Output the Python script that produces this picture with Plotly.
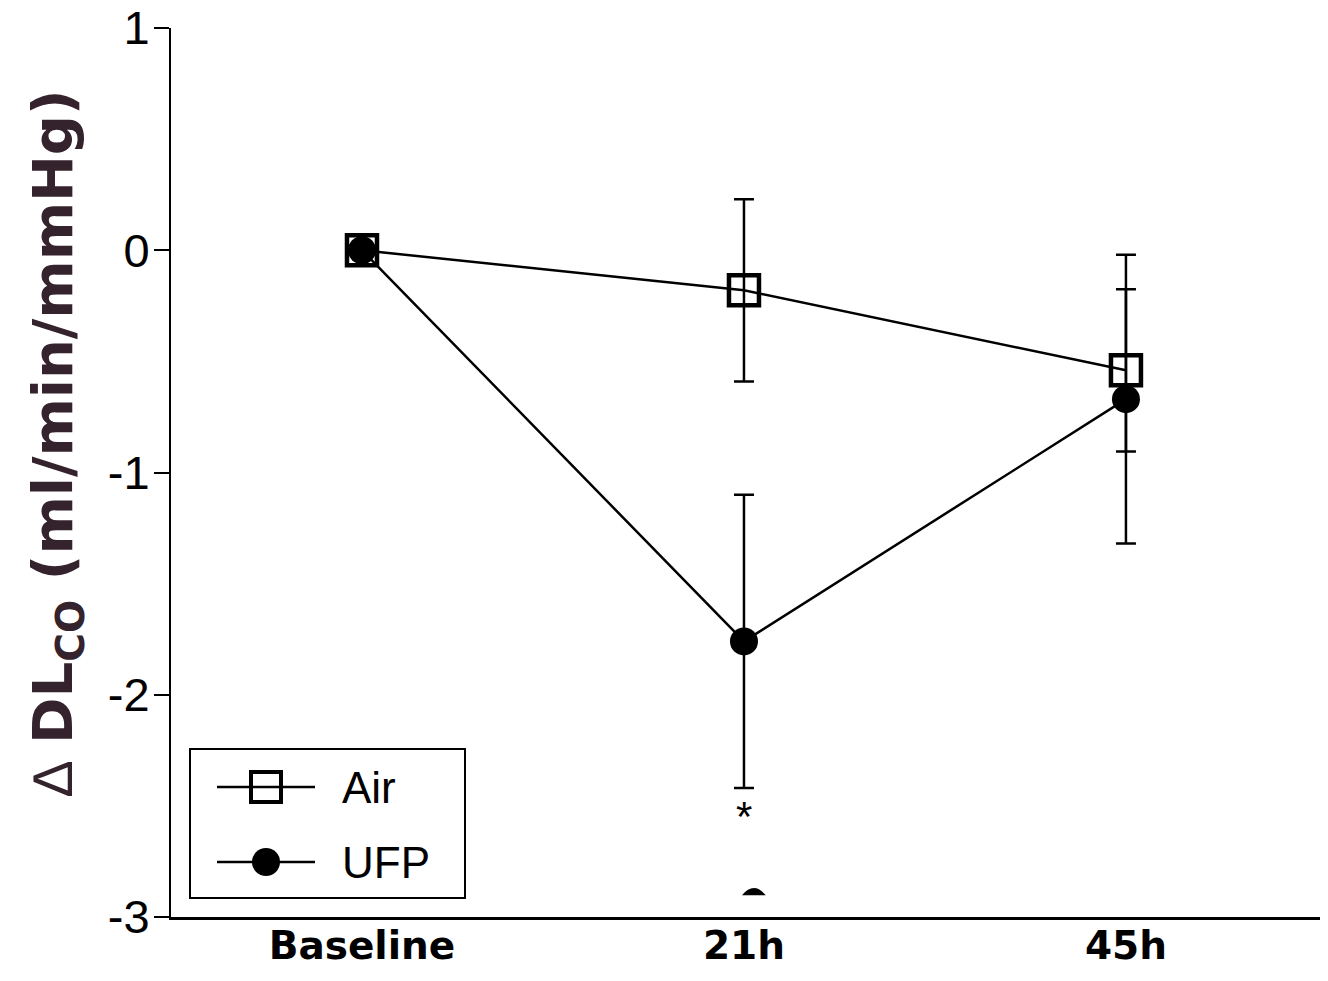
import plotly.graph_objects as go

# ---- data ----
categories = ["Baseline", "21h", "45h"]
air_mean = [0.0, -0.18, -0.54]
air_err = [0.0, 0.41, 0.365]
ufp_mean = [0.0, -1.76, -0.67]
ufp_err = [0.0, 0.66, 0.65]
y_ticks = [-3, -2, -1, 0, 1]
y_tick_labels = ["-3", "-2", "-1", "0", "1"]
series_names = ["Air", "UFP"]

x_pos = list(range(len(categories)))

SANS = "Liberation Sans, Arial, sans-serif"
WIDE = "DejaVu Sans, sans-serif"

# page layout (screen pixels, the page body adds an 8 px offset)
OFF = 8
FIG_W, FIG_H = 1328 - 2 * OFF, 981 - 2 * OFF
PL, PT, PB = 171, 28, 917          # plot area edges on screen
PR = FIG_W + OFF                   # right edge of plot area on screen


def px(xs):
    return (xs - PL) / (PR - PL)


def py(ys):
    return (PB - ys) / (PB - PT)


fig = go.Figure()

fig.add_trace(go.Scatter(
    x=x_pos, y=air_mean, name=series_names[0], mode="lines+markers",
    line=dict(color="black", width=2.5),
    marker=dict(symbol="square", size=30, color="rgba(0,0,0,0)",
                line=dict(color="black", width=4.5)),
    error_y=dict(type="data", array=air_err, visible=True,
                 color="black", thickness=2.5, width=10),
    showlegend=False,
))
fig.add_trace(go.Scatter(
    x=x_pos, y=ufp_mean, name=series_names[1], mode="lines+markers",
    line=dict(color="black", width=2.5),
    marker=dict(symbol="circle", size=28, color="black",
                line=dict(color="black", width=0)),
    error_y=dict(type="data", array=ufp_err, visible=True,
                 color="black", thickness=2.5, width=10),
    showlegend=False,
))

# significance asterisk
fig.add_annotation(x=1, y=-2.55, xref="x", yref="y", text="*",
                   showarrow=False, font=dict(family=SANS, size=42, color="black"))
# small stray mark near the axis
fig.add_shape(type="path", xref="x", yref="y",
              path="M 0.995,-2.902 Q 1.026,-2.838 1.057,-2.902 Z",
              fillcolor="black", line=dict(color="black", width=0))

# ---- legend (drawn box) ----
fig.add_shape(type="rect", xref="paper", yref="paper",
              x0=px(190), x1=px(465), y0=py(898), y1=py(749),
              line=dict(color="black", width=2), fillcolor="white", layer="above")
rows = [787, 862]
for name, yrow in zip(series_names, rows):
    fig.add_shape(type="line", xref="paper", yref="paper",
                  x0=px(217), x1=px(315), y0=py(yrow), y1=py(yrow),
                  line=dict(color="black", width=2.5), layer="above")
    fig.add_annotation(xref="paper", yref="paper", x=px(340), y=py(yrow),
                       text=name, showarrow=False, xanchor="left", yanchor="middle",
                       font=dict(family=SANS, size=44, color="black"))
fig.add_shape(type="rect", xref="paper", yref="paper",
              x0=px(251), x1=px(281), y0=py(rows[0] + 15), y1=py(rows[0] - 15),
              line=dict(color="black", width=4), fillcolor="rgba(0,0,0,0)", layer="above")
fig.add_shape(type="circle", xref="paper", yref="paper",
              x0=px(252), x1=px(280), y0=py(rows[1] + 14), y1=py(rows[1] - 14),
              line=dict(color="black", width=0), fillcolor="black", layer="above")

# y-axis title
fig.add_annotation(
    xref="paper", yref="paper", x=px(56), y=py(443),
    text=("<span style='font-family:Liberation Sans;font-weight:normal'>\u2206</span>"
          " <b>DL<sub>CO</sub> (ml/min/mmHg)</b>"),
    textangle=-90, showarrow=False, xanchor="center", yanchor="middle",
    font=dict(family=WIDE, size=56, color="#34232c"),
)

fig.update_layout(
    width=FIG_W, height=FIG_H,
    paper_bgcolor="white", plot_bgcolor="white",
    margin=dict(l=PL - OFF, r=0, t=PT - OFF, b=FIG_H - (PB - OFF), autoexpand=False),
    showlegend=False,
    font=dict(family=SANS, color="black"),
)

fig.update_xaxes(
    range=[-0.5, 2.508], showgrid=False, zeroline=False, automargin=False,
    showline=True, linecolor="black", linewidth=3,
    tickmode="array", tickvals=x_pos, ticktext=categories,
    ticks="", ticklabelstandoff=-8, ticklabeloverflow="allow",
    tickfont=dict(family=WIDE, size=39, color="black", weight="bold"),
)
fig.update_yaxes(
    range=[-3, 1], showgrid=False, zeroline=False, automargin=False,
    showline=True, linecolor="black", linewidth=2,
    tickmode="array", tickvals=y_ticks, ticktext=y_tick_labels,
    ticks="outside", ticklen=15, tickwidth=2, tickcolor="black",
    ticklabelstandoff=-5, ticklabeloverflow="allow",
    tickfont=dict(family=SANS, size=47, color="black"),
)

fig.write_html("out.html")
